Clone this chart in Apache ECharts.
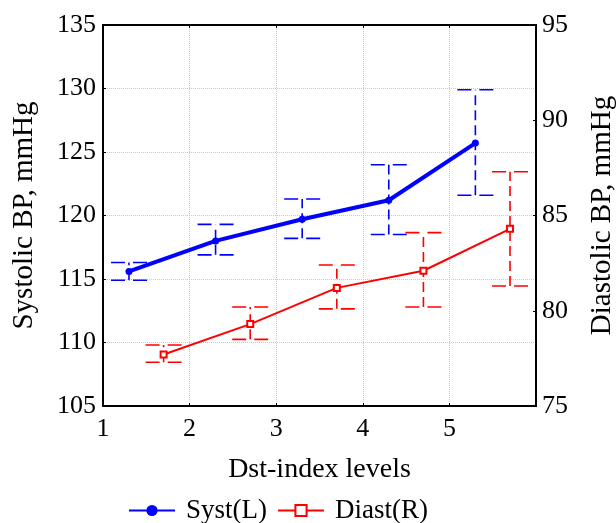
<!DOCTYPE html>
<html><head><meta charset="utf-8">
<script src="https://cdn.jsdelivr.net/npm/echarts@6/dist/echarts.min.js"></script>
<style>html,body{margin:0;padding:0;background:#fff}#c{width:616px;height:523px}</style>
</head><body><div id="c"></div>
<script>
var xTickLabels = ['1','2','3','4','5'];
var systX = [1.3, 2.3, 3.3, 4.3, 5.3];
var systMean = [115.6, 118.0, 119.7, 121.2, 125.7];
var systLow = [114.9, 116.9, 118.2, 118.5, 121.6];
var systHigh = [116.3, 119.3, 121.3, 124.0, 129.9];
var diastX = [1.7, 2.7, 3.7, 4.7, 5.7];
var diastMean = [77.7, 79.3, 81.2, 82.1, 84.3];
var diastLow = [77.3, 78.5, 80.1, 80.2, 81.3];
var diastHigh = [78.2, 80.2, 82.4, 84.1, 87.3];

var FONT = 'Liberation Serif';
var chart = echarts.init(document.getElementById('c'));

function errRender(color) {
  return function (params, api) {
    var x = api.value(0), lo = api.value(1), hi = api.value(2);
    var pLo = api.coord([x, lo]), pHi = api.coord([x, hi]);
    var hw = 18;
    var stV = {stroke: color, lineWidth: 1.6, lineDash: [10, 5], fill: null};
    var stC = {stroke: color, lineWidth: 1.6, lineDash: [14, 8], fill: null};
    return {type: 'group', children: [
      {type: 'line', shape: {x1: pLo[0], y1: pLo[1], x2: pHi[0], y2: pHi[1]}, style: stV},
      {type: 'line', shape: {x1: pLo[0] - hw, y1: pLo[1], x2: pLo[0] + hw, y2: pLo[1]}, style: stC},
      {type: 'line', shape: {x1: pHi[0] - hw, y1: pHi[1], x2: pHi[0] + hw, y2: pHi[1]}, style: stC}
    ]};
  };
}

function zip3(a, b, c) { return a.map(function (v, i) { return [v, b[i], c[i]]; }); }
function zip2(a, b) { return a.map(function (v, i) { return [v, b[i]]; }); }

var axisLbl = {color: '#000', fontFamily: FONT, fontSize: 26};
chart.setOption({
  animation: false,
  grid: {left: 103, right: 80, top: 25, bottom: 117, outerBoundsMode: 'none', containLabel: false, show: true, borderColor: '#000', borderWidth: 2, backgroundColor: 'transparent'},
  legend: {
    bottom: -1, left: 128, padding: 0, itemWidth: 46, itemHeight: 14, itemGap: 10,
    textStyle: {fontFamily: FONT, fontSize: 27, color: '#000', padding: [0, 0, 0, 6]},
    data: ['Syst(L)', 'Diast(R)']
  },
  xAxis: [{
    type: 'value', min: 1, max: 6, interval: 1,
    name: 'Dst-index levels', nameLocation: 'middle', nameGap: 50,
    nameTextStyle: {fontFamily: FONT, fontSize: 28, color: '#000'},
    axisLine: {show: true, lineStyle: {color: '#000', width: 2}},
    axisTick: {show: true, inside: true, length: 3, lineStyle: {color: '#000'}},
    axisLabel: Object.assign({margin: 10, formatter: function (v) { return xTickLabels.indexOf(String(v)) >= 0 ? String(v) : ''; }}, axisLbl),
    splitLine: {show: true, lineStyle: {color: '#c8c8c8', type: 'dotted', width: 1}}
  }, {
    type: 'value', min: 1, max: 6, interval: 1, position: 'top',
    axisLine: {show: true, lineStyle: {color: '#000', width: 2}},
    axisTick: {show: true, inside: true, length: 3, lineStyle: {color: '#000'}},
    axisLabel: {show: false}, splitLine: {show: false}
  }],
  yAxis: [{
    type: 'value', min: 105, max: 135, interval: 5, position: 'left',
    name: 'Systolic BP, mmHg', nameLocation: 'middle', nameGap: 64, nameRotate: 90,
    nameTextStyle: {fontFamily: FONT, fontSize: 29, color: '#000'},
    axisLine: {show: true, lineStyle: {color: '#000', width: 2}},
    axisTick: {show: true, inside: true, length: 3, lineStyle: {color: '#000'}},
    axisLabel: Object.assign({margin: 7}, axisLbl),
    splitLine: {show: true, lineStyle: {color: '#c8c8c8', type: 'dotted', width: 1}}
  }, {
    type: 'value', min: 75, max: 95, interval: 5, position: 'right',
    name: 'Diastolic BP, mmHg', nameLocation: 'middle', nameGap: 52, nameRotate: 90,
    nameTextStyle: {fontFamily: FONT, fontSize: 29, color: '#000'},
    axisLine: {show: true, lineStyle: {color: '#000', width: 2}},
    axisTick: {show: true, inside: true, length: 3, lineStyle: {color: '#000'}},
    axisLabel: Object.assign({margin: 6}, axisLbl),
    splitLine: {show: false}
  }],
  series: [{
    type: 'custom', name: 'systErr', xAxisIndex: 0, yAxisIndex: 0,
    renderItem: errRender('#0000ff'), data: zip3(systX, systLow, systHigh), z: 2, silent: true
  }, {
    type: 'custom', name: 'diastErr', xAxisIndex: 0, yAxisIndex: 1,
    renderItem: errRender('#ff0000'), data: zip3(diastX, diastLow, diastHigh), z: 2, silent: true
  }, {
    type: 'line', name: 'Syst(L)', xAxisIndex: 0, yAxisIndex: 0,
    data: zip2(systX, systMean), symbol: 'circle', symbolSize: 7,
    lineStyle: {color: '#0000ff', width: 4}, itemStyle: {color: '#0000ff'}, z: 3
  }, {
    type: 'line', name: 'Diast(R)', xAxisIndex: 0, yAxisIndex: 1,
    data: zip2(diastX, diastMean), symbol: 'rect', symbolSize: 6,
    lineStyle: {color: '#ff0000', width: 2}, itemStyle: {color: '#ffffff', borderColor: '#ff0000', borderWidth: 2}, z: 3
  }]
});
</script></body></html>
